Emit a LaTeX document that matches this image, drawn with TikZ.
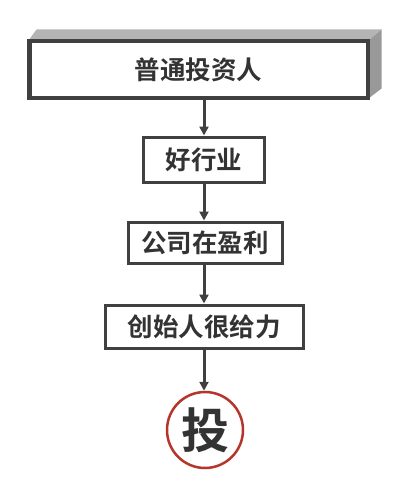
\documentclass[tikz,border=0pt]{standalone}
\usepackage{fontspec}
\newfontfamily\cjk{Noto Sans CJK SC Bold}
\usetikzlibrary{arrows.meta}
\definecolor{edge}{HTML}{404040}
\definecolor{txt}{HTML}{333333}
\definecolor{topface}{HTML}{B4B4B4}
\definecolor{sideface}{HTML}{999999}
\definecolor{ring}{HTML}{B5352B}
\begin{document}
\begin{tikzpicture}[x=1pt,y=-1pt,
  box/.style={draw=edge,line width=3pt,fill=white,inner sep=0pt,text=txt,font=\cjk\fontsize{25.5}{25.5}\selectfont},
  conn/.style={draw=edge,line width=3pt,-{Triangle[length=9pt,width=9pt]}}]
\useasboundingbox (0,0) rectangle (400,495);
\fill[white] (0,0) rectangle (400,495);
% 3D top box
\node[box,minimum width=337pt,minimum height=55pt] (inv) at (198.5,69.5) {普通投资人};
\fill[topface] (inv.north west) -- ++(8,-11) -- ([xshift=13pt,yshift=11pt]inv.north east) -- (inv.north east) -- cycle;
\fill[sideface] (inv.north east) -- ++(13,-11) -- ([xshift=13pt,yshift=10pt]inv.south east) -- (inv.south east) -- cycle;
\draw[edge,line width=3pt] (inv.north west) rectangle (inv.south east);
\node[box,minimum width=121pt,minimum height=45pt] (ind) at (204,159.5) {好行业};
\node[box,minimum width=154pt,minimum height=41pt] (co) at (205,242.5) {公司在盈利};
\node[box,minimum width=198pt,minimum height=43pt] (fd) at (204,326.5) {创始人很给力};
\node[circle,draw=ring,line width=2.5pt,minimum size=76pt,inner sep=0pt,text=txt,font=\cjk\fontsize{48}{48}\selectfont] (tou) at (205,430) {投};
\draw[conn] (inv.south -| ind) -- (ind.north);
\draw[conn] (ind.south) -- (ind.south |- co.north);
\draw[conn] (co.south -| fd) -- (fd.north);
\draw[conn] (fd.south) -- (fd.south |- tou.north);
\end{tikzpicture}
\end{document}
